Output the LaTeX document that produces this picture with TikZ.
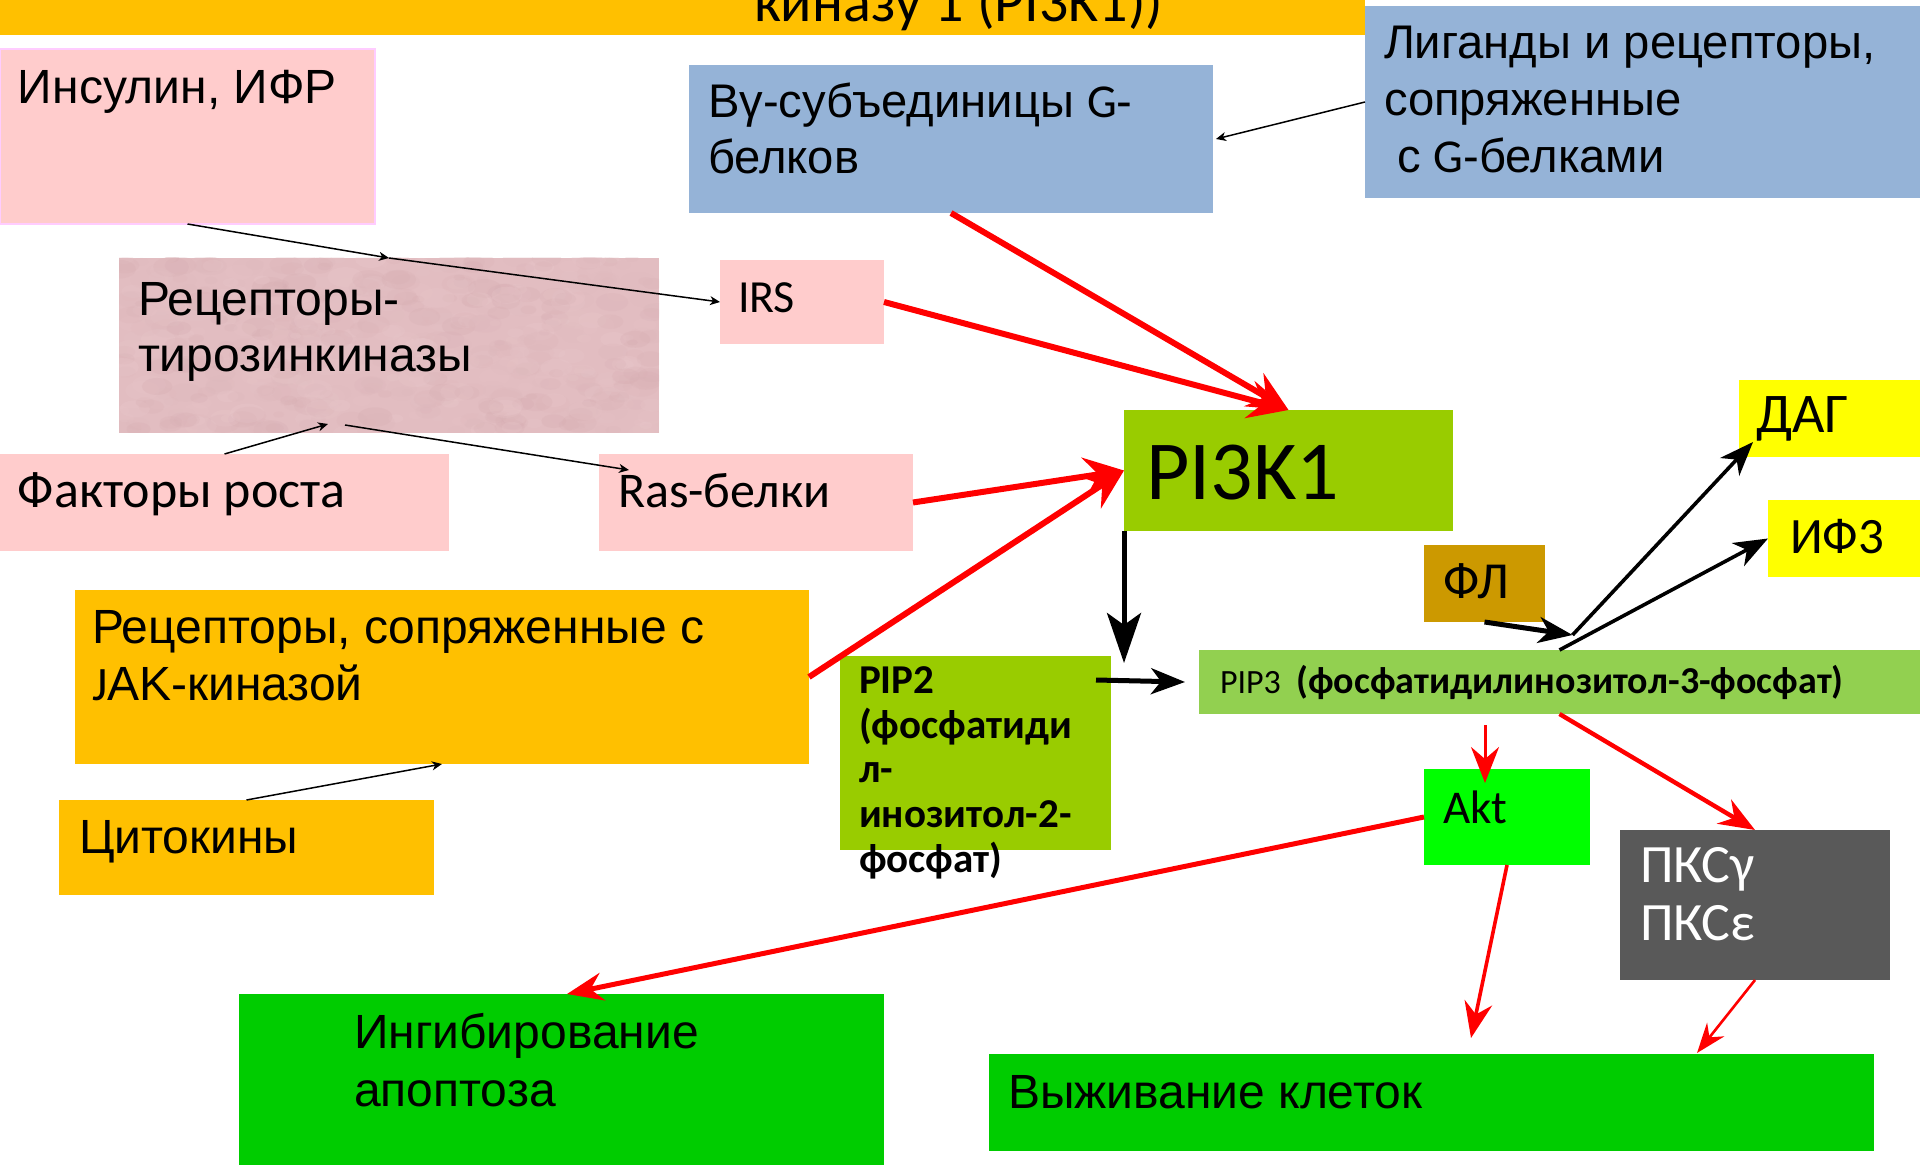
\documentclass[tikz,border=0pt]{standalone}
\usepackage{fontspec}
\setmainfont{Liberation Sans}
\newfontfamily\cbr{Carlito}
\usetikzlibrary{arrows.meta,calc}

\definecolor{banner}{HTML}{FFC000}
\definecolor{pinkbox}{HTML}{FFCCCC}
\definecolor{pinkedge}{HTML}{FFCCFF}
\definecolor{rtkbase}{HTML}{E2BDC1}
\definecolor{rtkdark}{HTML}{D3A8AD}
\definecolor{rtklight}{HTML}{EDCDD0}
\definecolor{steel}{HTML}{95B3D7}
\definecolor{olive}{HTML}{99CC00}
\definecolor{pipgreen}{HTML}{92D050}
\definecolor{ochre}{HTML}{CC9900}
\definecolor{lemon}{HTML}{FFFF00}
\definecolor{lime}{HTML}{00FF00}
\definecolor{slate}{HTML}{595959}
\definecolor{leaf}{HTML}{00CC00}
\definecolor{arrred}{HTML}{FF0000}

\tikzset{
  box/.style={anchor=north west, inner sep=0pt, outer sep=0pt, draw=none},
  wh/.style 2 args={minimum width=#1*0.5pt, minimum height=#2*0.5pt},
  lbl/.style={anchor=base west, inner sep=0pt, outer sep=0pt},
  ar/.style={font=\fontsize{#1}{#1}\selectfont},
  cb/.style={font=\cbr\fontsize{#1}{#1}\selectfont},
  cbb/.style={font=\cbr\bfseries\fontsize{#1}{#1}\selectfont},
  thinarr/.style={draw=black, line width=0.75pt, -{Stealth[length=5pt,width=4.5pt,inset=1.5pt]}},
  redbig/.style={draw=arrred, line width=3pt, -{Stealth[length=20pt,width=19pt,inset=7pt]}},
  redmid/.style={draw=arrred, line width=#1, -{Stealth[length=18pt,width=14pt,inset=6pt]}},
  blkarr/.style={draw=black, line width=#1, -{Stealth[length=17pt,width=13pt,inset=5pt]}},
}

\begin{document}
\begin{tikzpicture}[x=0.5pt,y=-0.5pt]
\useasboundingbox (0,0) rectangle (1920,1165);
\clip (0,0) rectangle (1920,1165);

% title strip, cut off at the top edge
\node[box, wh={1365}{35}, fill=banner] (banner) at (0,0) {};
\node[lbl, cb=29] (bannertxt) at (754,22) {киназу 1 (PI3K1))};

% upstream boxes
\node[box, wh={375}{175}, fill=pinkbox, draw=pinkedge, line width=0.8pt] (ins) at (0,49) {};
\node[lbl, ar=24] (inst) at (18,104) {Инсулин, ИФР};

\node[box, wh={540}{175}, fill=rtkbase] (rtk) at (119,258) {};
\begin{scope}
  \clip (rtk.north west) rectangle (rtk.south east);
  \pgfmathsetseed{11}
  \foreach \i in {1,...,700} {
    \pgfmathsetmacro\xx{119+540*rnd}
    \pgfmathsetmacro\yy{258+175*rnd}
    \pgfmathsetmacro\rr{3+7*rnd}
    \pgfmathsetmacro\pc{int(100*rnd)}
    \fill[rtkdark!\pc!rtklight, opacity=0.22] (\xx,\yy) ellipse [x radius=1.8*\rr, y radius=\rr];
  }
\end{scope}
\node[lbl, ar=24] (rtkt1) at (138,316) {Рецепторы-};
\node[lbl, ar=24] (rtkt2) at (138,372) {тирозинкиназы};

\node[box, wh={164}{84}, fill=pinkbox] (irs) at (720,260) {};
\node[lbl, cb=23] (irst) at (738,313) {IRS};

\node[box, wh={524}{148}, fill=steel] (bg) at (689,65) {};
\node[lbl, ar=23.6] (bgt1) at (708,118) {Вγ-субъединицы {\cbr G}-};
\node[lbl, ar=23.6] (bgt2) at (708,174) {белков};

\node[box, wh={555}{192}, fill=steel] (lig) at (1365,6) {};
\node[lbl, ar=23.6] (ligt1) at (1384,59) {Лиганды и рецепторы,};
\node[lbl, ar=23.6] (ligt2) at (1384,116) {сопряженные};
\node[lbl, ar=23.6] (ligt3) at (1384,173) {\ с {\cbr G}-белками};

\node[box, wh={449}{97}, fill=pinkbox] (fak) at (0,454) {};
\node[lbl, cb=26] (fakt) at (18,508) {Факторы роста};

\node[box, wh={314}{97}, fill=pinkbox] (ras) at (599,454) {};
\node[lbl, cb=25] (rast) at (618,508) {Ras-белки};

\node[box, wh={734}{174}, fill=banner] (jak) at (75,590) {};
\node[lbl, ar=24] (jakt1) at (92,643) {Рецепторы, сопряженные с};
\node[lbl, ar=24] (jakt2) at (92,700) {{\cbr J}AK-киназой};

\node[box, wh={375}{95}, fill=banner] (cyt) at (59,800) {};
\node[lbl, ar=24] (cytt) at (79,853) {Цитокины};

% central kinase and lipids
\node[box, wh={329}{121}, fill=olive] (pi) at (1124,410) {};
\node[lbl, cb=42] (pit) at (1146,499) {PI3K1};

\node[box, wh={181}{77}, fill=lemon] (dag) at (1739,380) {};
\node[lbl, cb=28] (dagt) at (1756,433) {ДАГ};

\node[box, wh={152}{77}, fill=lemon] (if3) at (1768,500) {};
\node[lbl, cb=25.5] (if3t) at (1790,553) {ИФ3};

\node[box, wh={121}{77}, fill=ochre] (fl) at (1424,545) {};
\node[lbl, cb=26] (flt) at (1443,598) {ФЛ};

\node[box, wh={721}{64}, fill=pipgreen] (pip3) at (1199,650) {};
\node[lbl, cb=17] (pip3t) at (1220,693) {PIP3\ \ {\bfseries\fontsize{19}{19}\selectfont(фосфатидилинозитол-3-фосфат)}};

\node[box, wh={271}{194}, fill=olive] (pip2) at (840,656) {};

% downstream effectors
\node[box, wh={166}{96}, fill=lime] (akt) at (1424,769) {};
\node[lbl, cb=23.5] (aktt) at (1443,823) {Akt};

\node[box, wh={270}{150}, fill=slate] (pkc) at (1620,830) {};
\node[lbl, cb=27, text=white] (pkct1) at (1640,882) {ПКСγ};
\node[lbl, cb=27, text=white] (pkct2) at (1640,940) {ПКСε};

\node[box, wh={645}{171}, fill=leaf] (ing) at (239,994) {};
\node[lbl, ar=24] (ingt1) at (354,1048) {Ингибирование};
\node[lbl, ar=24] (ingt2) at (354,1106) {апоптоза};

\node[box, wh={885}{97}, fill=leaf] (vy) at (989,1054) {};
\node[lbl, ar=24] (vyt) at (1008,1108) {Выживание клеток};

% free ends of connectors
\coordinate (rtkin) at ($(rtk.south)+(-61,-9)$);
\coordinate (rtkout) at ($(rtk.south)+(-44,-8)$);
\coordinate (rasin) at ($(ras.north west)+(30,16)$);
\coordinate (pidown) at ($(pi.south west)+(0,132)$);
\coordinate (pip2out) at ($(pip2.north east)+(-15,24)$);
\coordinate (pip3in) at ($(pip3.west)+(-14,0)$);
\coordinate (jn) at ($(pip3.north)+(13,-15)$);
\coordinate (dagin) at ($(dag.south west)+(14,-15)$);
\coordinate (aktsrc) at ($(pip3.south west)+(286,11)$);
\coordinate (aktin) at ($(akt.north west)+(61,14)$);
\coordinate (ingin) at ($(ing.north west)+(328,0)$);
\coordinate (vyin1) at ($(vy.north west)+(482,-16)$);
\coordinate (vyin2) at ($(vy.north west)+(708,-1)$);

% thin black connectors
\draw[thinarr] (ins.south) -- (rtk.north);
\draw[thinarr] (rtk.north) -- (irs.west);
\draw[thinarr] (fak.north) -- (rtkin);
\draw[thinarr] (rtkout) -- (rasin);
\draw[thinarr] (lig.west) -- ($(bg.east)+(3,0)$);
\draw[thinarr] (cyt.north) -- (jak.south);

% heavy red inputs to PI3K1
\draw[redbig] (bg.south) -- (pi.north);
\draw[redbig] (irs.east) -- (pi.north);
\draw[redbig] (ras.east) -- (pi.west);
\draw[redbig] (jak.east) -- (pi.west);

% black lipid conversions
\draw[draw=black, line width=2.5pt, -{Stealth[length=25pt,width=17pt,inset=6pt]}] (pi.south west) -- (pidown);
\draw[blkarr=2.5pt] (pip2out) -- (pip3in);
\draw[blkarr=2.5pt] (fl.south) -- (jn);
\draw[blkarr=1.8pt] (jn) -- (dagin);
\draw[blkarr=1.8pt] (pip3.north) -- (if3.west);

% red outputs
\draw[redmid=1.5pt] (aktsrc) -- (aktin);
\draw[redmid=2.2pt] (pip3.south) -- (pkc.north);
\draw[redmid=2.5pt] (akt.west) -- (ingin);
\draw[redmid=1.8pt] (akt.south) -- (vyin1);
\draw[draw=arrred, line width=1.3pt, -{Stealth[length=15pt,width=11pt,inset=5pt]}] (pkc.south) -- (vyin2);

% PIP2 label runs past its box
\node[lbl, cbb=20.5] (pip2t1) at (859,693) {PIP2};
\node[lbl, cbb=20.5] (pip2t2) at (859,738) {(фосфатиди};
\node[lbl, cbb=20.5] (pip2t3) at (859,782) {л-};
\node[lbl, cbb=20.5] (pip2t4) at (859,827) {инозитол-2-};
\node[lbl, cbb=20.5] (pip2t5) at (859,872) {фосфат)};
\end{tikzpicture}
\end{document}
